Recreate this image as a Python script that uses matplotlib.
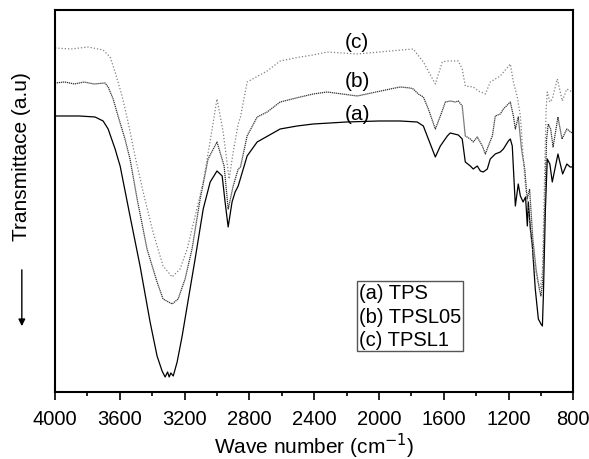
import matplotlib
matplotlib.use('Agg')
import matplotlib.pyplot as plt
from matplotlib.ticker import MultipleLocator

plt.rcParams['font.family'] = ['Liberation Sans', 'DejaVu Sans']

# (a) TPS
wn_a = [4000, 3850, 3753, 3703, 3672, 3629, 3611, 3598, 3537, 3475, 3413, 3370, 3339, 3320, 3305,
        3295, 3285, 3270, 3246, 3215, 3184, 3135, 3085, 3042, 3000, 2968, 2950, 2931, 2907, 2888,
        2869, 2814, 2752, 2610, 2505, 2406, 2301, 2200, 2000, 1869, 1764, 1726, 1695, 1652, 1621,
        1578, 1560, 1510, 1486, 1467, 1436, 1418, 1393, 1374, 1356, 1331, 1313, 1282, 1251, 1232,
        1201, 1189, 1177, 1158, 1140, 1127, 1110, 1095, 1084, 1078, 1065, 1053, 1035, 1016, 1000,
        991, 985, 973, 961, 945, 930, 895, 866, 840, 820, 800]
t_a = [276, 276, 275, 271, 263, 243, 233, 226, 176, 126, 70, 36, 21, 15, 20,
       15, 19, 16, 30, 56, 86, 133, 183, 210, 221, 216, 190, 165, 190, 200,
       206, 236, 250, 263, 266, 268, 269, 270, 271, 271, 270, 266, 253, 235, 246,
       256, 259, 257, 253, 230, 226, 223, 226, 221, 220, 223, 233, 238, 240, 243,
       251, 253, 246, 186, 208, 196, 190, 195, 166, 190, 163, 146, 103, 73, 68,
       66, 96, 180, 233, 228, 210, 238, 218, 228, 225, 225]

# (b) TPSL05
wn_b = [4000, 3940, 3880, 3820, 3760, 3691, 3672, 3641, 3611, 3568, 3537, 3493, 3432, 3370, 3333,
        3277, 3240, 3197, 3154, 3104, 3055, 3000, 2956, 2931, 2900, 2869, 2855, 2814, 2752, 2690,
        2610, 2486, 2406, 2320, 2134, 1930, 1869, 1807, 1788, 1757, 1726, 1695, 1652, 1621, 1590,
        1560, 1529, 1510, 1486, 1467, 1436, 1418, 1393, 1362, 1343, 1325, 1300, 1282, 1251, 1232,
        1189, 1170, 1158, 1140, 1120, 1100, 1085, 1070, 1050, 1030, 1010, 1000, 988, 975, 965,
        955, 940, 925, 895, 870, 840, 800]
t_b = [309, 310, 308, 310, 308, 309, 305, 293, 276, 253, 233, 193, 143, 110, 93,
       88, 93, 113, 143, 193, 233, 250, 226, 183, 206, 223, 225, 256, 275, 280,
       290, 295, 298, 300, 296, 303, 305, 304, 303, 298, 295, 283, 263, 276, 290,
       291, 290, 291, 286, 256, 253, 250, 255, 246, 238, 246, 256, 276, 278, 283,
       290, 276, 263, 275, 243, 223, 193, 203, 153, 123, 103, 96, 113, 193, 253,
       268, 263, 245, 275, 253, 263, 258]

# (c) TPSL1
wn_c = [4000, 3900, 3796, 3703, 3660, 3629, 3586, 3549, 3506, 3456, 3395, 3333, 3277, 3228, 3184,
        3135, 3085, 3040, 3000, 2962, 2925, 2900, 2869, 2855, 2814, 2690, 2610, 2486, 2406, 2320,
        2134, 1930, 1788, 1726, 1652, 1609, 1578, 1510, 1486, 1467, 1418, 1387, 1343, 1313, 1282,
        1251, 1189, 1170, 1146, 1127, 1100, 1080, 1060, 1040, 1020, 1005, 990, 978, 968, 961,
        945, 930, 899, 868, 840, 806, 800]
t_c = [344, 343, 345, 342, 335, 320, 296, 270, 236, 200, 160, 126, 115, 123, 143,
       176, 210, 253, 293, 260, 213, 240, 268, 275, 310, 321, 331, 335, 337, 340,
       338, 341, 343, 330, 308, 330, 331, 331, 323, 306, 305, 301, 298, 310, 313,
       316, 328, 310, 295, 276, 213, 183, 153, 128, 110, 103, 123, 213, 283, 300,
       290, 293, 313, 291, 303, 300, 300]

fig = plt.figure(figsize=(5.89, 4.60), dpi=100)
ax = fig.add_axes([0.0934, 0.1457, 0.8800, 0.8304])

ax.plot(wn_a, t_a, color='black', lw=0.9, ls='-')
ax.plot(wn_b, t_b, color='#333333', lw=0.9, ls=(0, (1, 0.6)))
ax.plot(wn_c, t_c, color='#808080', lw=0.9, ls=(0, (1, 1.6)))

ax.set_xlim(4000, 800)
ax.set_ylim(0, 382)
ax.xaxis.set_major_locator(MultipleLocator(400))
ax.xaxis.set_minor_locator(MultipleLocator(200))
ax.tick_params(axis='x', which='major', direction='out', length=6, width=1.2,
               labelsize=14.5, pad=6)
ax.tick_params(axis='x', which='minor', direction='out', length=3, width=1.2)
ax.set_yticks([])
for s in ax.spines.values():
    s.set_linewidth(1.5)

ax.set_xlabel('Wave number (cm$^{-1}$)', fontsize=15, labelpad=2)
ax.text(-0.064, 0.62, 'Transmittace (a.u)', transform=ax.transAxes, rotation=90,
        ha='center', va='center', fontsize=15)
ax.annotate('', xy=(-0.064, 0.165), xytext=(-0.064, 0.327), xycoords='axes fraction',
            textcoords='axes fraction', annotation_clip=False,
            arrowprops=dict(arrowstyle='-|>', color='black', lw=1, mutation_scale=10))

ax.text(2134, 350, '(c)', ha='center', va='center', fontsize=15)
ax.text(2134, 311, '(b)', ha='center', va='center', fontsize=15)
ax.text(2134, 278, '(a)', ha='center', va='center', fontsize=15)

ax.text(0.586, 0.285, '(a) TPS\n(b) TPSL05\n(c) TPSL1', transform=ax.transAxes,
        ha='left', va='top', fontsize=14.5, linespacing=1.3,
        bbox=dict(boxstyle='square,pad=0.1', facecolor='white', edgecolor='#555555', lw=1))

fig.savefig('out.png', dpi=100)
